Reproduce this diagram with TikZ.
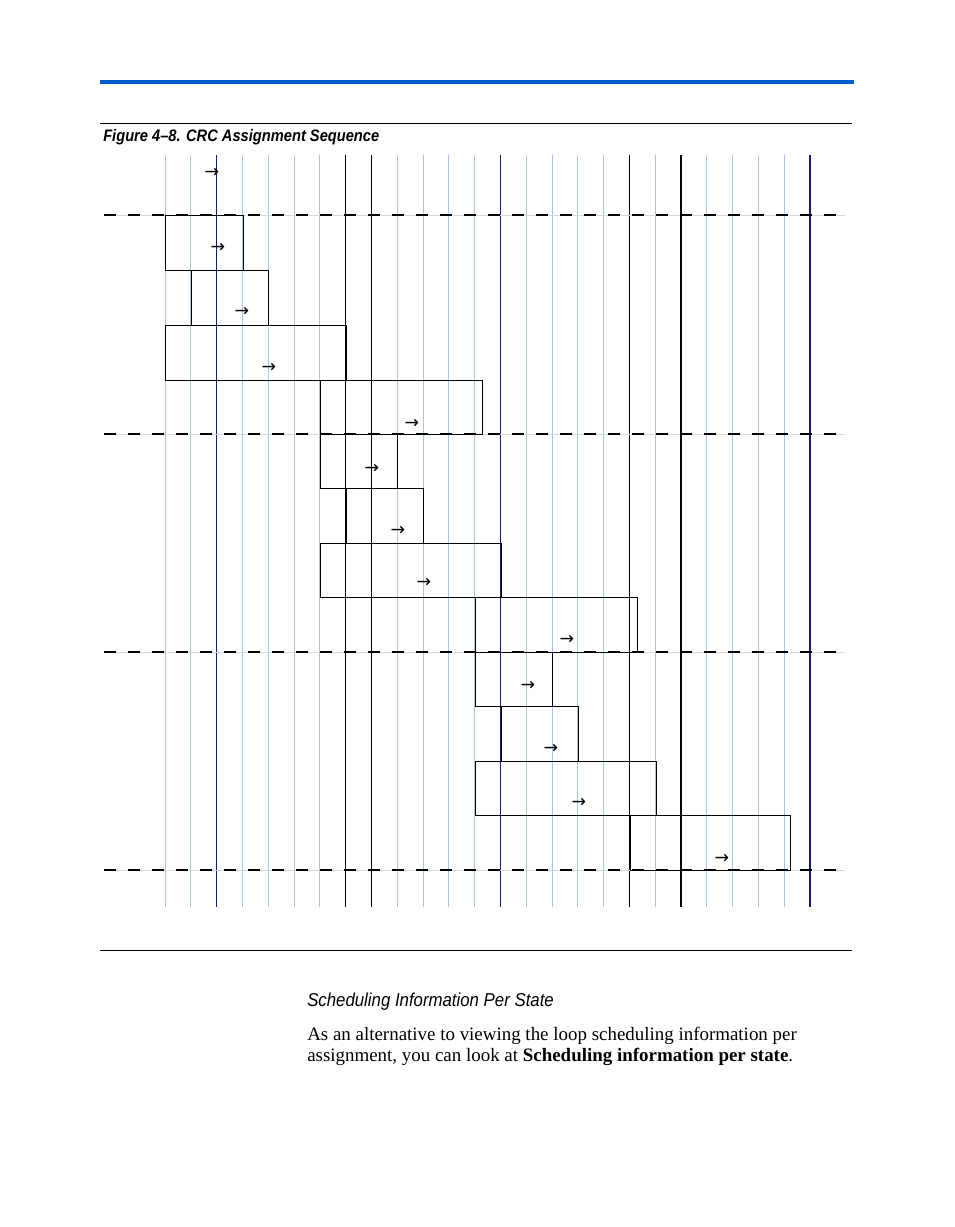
\documentclass[tikz,border=0pt]{standalone}
\usepackage{fontspec}
\setmainfont{Liberation Serif}
\setsansfont{Liberation Sans}
\newfontfamily\djv{DejaVu Sans}
\definecolor{topblue}{RGB}{0,92,204}
\definecolor{gridblue}{RGB}{170,195,230}
\definecolor{navy}{RGB}{20,30,100}
\begin{document}
\begin{tikzpicture}[x=0.75pt,y=-0.75pt,
  slot/.style={draw=black,line width=0.6pt},
  arr/.style={inner sep=0pt,font=\djv\fontsize{13}{13}\selectfont},
  dashrule/.style={line width=1.4pt,dash pattern=on 9pt off 9pt}]
\useasboundingbox (0,0) rectangle (954,1227);
\draw[topblue,line width=3pt] (100,82) -- (854,82);
\draw[line width=0.6pt] (100,123) -- (852,123);
\draw[line width=0.6pt] (100,950) -- (852,950);
\node[anchor=west,inner sep=0pt,font=\sffamily\bfseries\itshape\fontsize{12.5}{12.5}\selectfont] (cap) at (103,137) {\scalebox{0.88}[1]{Figure 4–8. CRC Assignment Sequence}};
% grid
\foreach \i in {0,...,25}{
  \pgfmathsetmacro\xx{165+\i*25.8}
  \draw[gridblue,line width=0.6pt] (\xx,155) -- (\xx,907);
}
\foreach \i/\c in {2/navy,7/black,8/black,13/navy,18/black,20/black,25/navy}{
  \pgfmathsetmacro\xx{165+\i*25.8}
  \draw[\c,line width=0.8pt] (\xx,155) -- (\xx,907);
}
% dashed state lines
\foreach \yy in {215,434,652,870}{
  \draw[gray!30,line width=0.6pt] (104,\yy) -- (845,\yy);
  \draw[dashrule] (104,\yy) -- (845,\yy);
}
% boxes
\foreach \n/\xa/\ya/\xb/\yb in {b1/165/215/243/270,b2/191/270/268/325,b3/165/325/346/380,b4/320/380/482/434,b5/320/434/397/488,b6/346/488/423/543,b7/320/543/501/597,b8/475/597/637/652,b9/475/652/552/706,b10/501/706/578/761,b11/475/761/656/815,b12/630/815/790/870}{
  \draw[slot] (\xa,\ya) rectangle (\xb,\yb);
}
\foreach \n/\xx/\yy in {a0/212/173,a1/218/248,a2/242/312,a3/269/368,a4/412/424,a5/372/469,a6/398/531,a7/424/583,a8/567/640,a9/528/686,a10/551/749,a11/579/803,a12/722/859}{
  \node[arr] (\n) at (\xx,\yy) {→};
}
\node[anchor=west,inner sep=0pt,font=\sffamily\itshape\fontsize{14}{14}\selectfont] (hd) at (307,1002) {\scalebox{0.9}[1]{Scheduling Information Per State}};
\node[anchor=north west,inner sep=0pt,align=left,font=\fontsize{14.2}{15.75}\selectfont] (body) at (307,1027) {As an alternative to viewing the loop scheduling information per\\assignment, you can look at \textbf{Scheduling information per state}.};
\end{tikzpicture}
\end{document}
